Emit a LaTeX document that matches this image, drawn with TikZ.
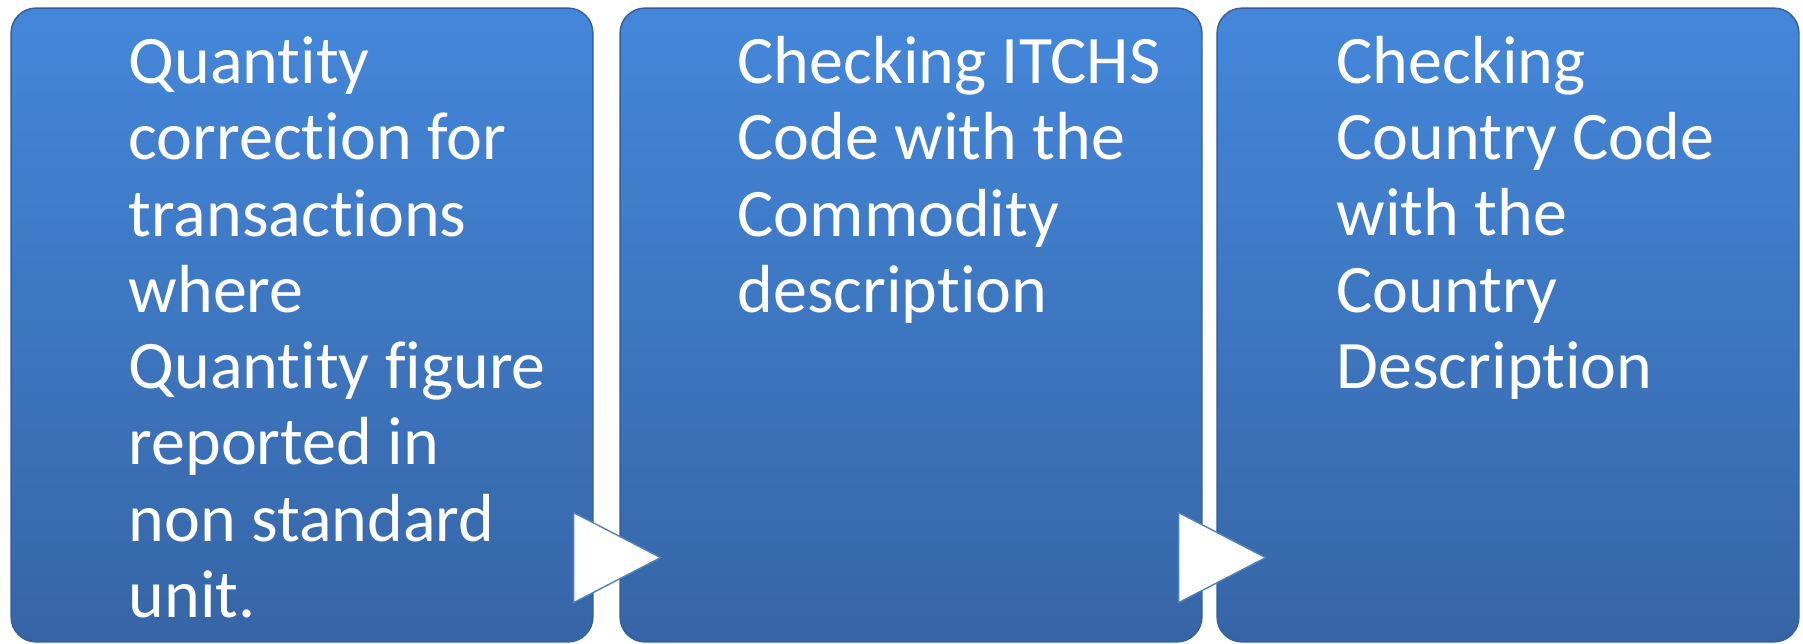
\documentclass[tikz,border=0pt]{standalone}
\usepackage{fontspec}
\setmainfont{Carlito}[Ligatures=NoCommon]
\usepackage{tikz}
\usetikzlibrary{calc,positioning}
\definecolor{boxtop}{HTML}{4487DA}
\definecolor{boxbot}{HTML}{3665A6}
\definecolor{boxedge}{HTML}{345F9C}
\definecolor{arrowedge}{HTML}{4F81BD}
\tikzset{
  stepbox/.style={rounded corners=0.5cm, top color=boxtop, bottom color=boxbot,
    draw=boxedge, line width=0.8pt, minimum width=11.64cm, minimum height=12.68cm, inner sep=0pt},
  steptext/.style={anchor=base west, inner sep=0pt, align=left, text=white,
    font=\fontsize{38.7pt}{43.4pt}\selectfont},
  chevron/.style={fill=white, draw=arrowedge, line width=0.8pt, line join=miter},
}

\begin{document}
\begin{tikzpicture}[x=0.02cm,y=-0.02cm]
  \useasboundingbox[fill=white] (0,0) rectangle (1803,644);

  \node[stepbox] (qty) at (302,325) {};
  \node[stepbox] (itchs) at (911,325) {};
  \node[stepbox] (country) at (1508,325) {};

  % text sits on the baseline of its last line
  \node[steptext] (qtytext) at ($(qty.north west)+(118,610)$)
    {Quantity\\correction for\\transactions\\where\\Quantity figure\\reported in\\non standard\\unit.};
  \node[steptext] (itchstext) at ($(itchs.north west)+(118,305)$)
    {Checking ITCHS\\Code with the\\Commodity\\description};
  \node[steptext] (countrytext) at ($(country.north west)+(120,381)$)
    {Checking\\Country Code\\with the\\Country\\Description};

  % arrows between the steps
  \draw[chevron] ($(qty.south east)+(-20,-130)$) -- ($(qty.south east)+(67,-85)$)
    -- ($(qty.south east)+(-20,-40)$) -- cycle;
  \draw[chevron] ($(itchs.south east)+(-24,-130)$) -- ($(itchs.south east)+(63,-85)$)
    -- ($(itchs.south east)+(-24,-40)$) -- cycle;
\end{tikzpicture}
\end{document}
